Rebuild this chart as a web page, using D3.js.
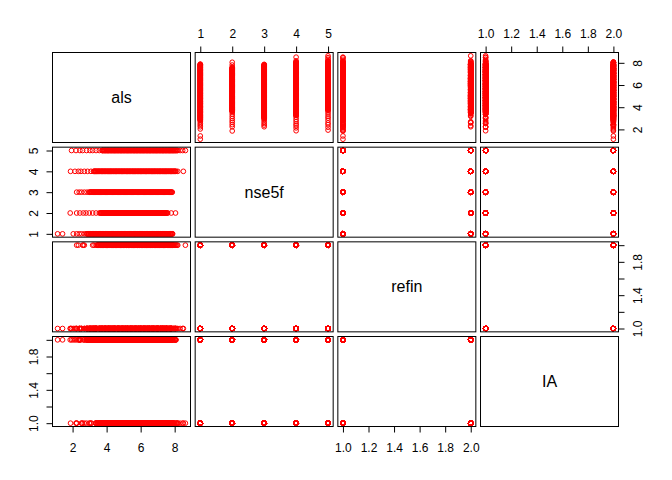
<!DOCTYPE html>
<html><head><meta charset="utf-8">
<script src="https://cdn.jsdelivr.net/npm/d3@7"></script>
<style>html,body{margin:0;padding:0;background:#fff;} svg{display:block;}</style>
</head><body>
<script>
// Variables shown in the scatterplot matrix
const varNames = ["als", "nse5f", "refin", "IA"];

// Tick values
const alsTicks = [2, 4, 6, 8];
const nse5fTicks = [1, 2, 3, 4, 5];
const binaryTicks = [1.0, 1.2, 1.4, 1.6, 1.8, 2.0];
const binaryVertLabels = [1.0, 1.4, 1.8];

// Observations per nse5f level: als value + code for (refin, IA)
// a = refin 1 / IA 1, b = refin 1 / IA 2, c = refin 2 / IA 1, d = refin 2 / IA 2
const nse5fLevels = [1, 2, 3, 4, 5];
const nse1Obs = `1.12b 1.41b 2.04b 2.24a 2.39b 2.53a 2.69b
2.82b 2.87b 2.95b 3.02a 3.07b 3.15b 3.21b 3.26d 3.34b 3.39b
3.47c 3.52b 3.6a 3.65d 3.73b 3.78c 3.84a 3.92b 3.97d 4.05a
4.1b 4.18c 4.23a 4.31b 4.36d 4.42a 4.5b 4.55c 4.63a 4.68b
4.76d 4.81a 4.89c 4.94b 5.02a 5.07d 5.13b 5.21a 5.26c 5.34b
5.39a 5.47d 5.52b 5.6a 5.65c 5.71b 5.79a 5.84d 5.92b 5.97a
6.05c 6.1b 6.16a 6.24d 6.29b 6.37a 6.42c 6.5b 6.55a 6.61d
6.69b 6.74a 6.82c 6.87b 6.95a 7.0d 7.06b 7.14a 7.19c 7.27b
7.32a 7.4d 7.45b 7.53a 7.58c 7.64b 7.72a 7.77d 7.84b 7.88a
2.85b 2.91b 2.98b 3.05b 3.11b 3.18b 3.24b 3.3b 3.37b 3.43b
3.5d 3.56a 3.63b 3.69c 3.75a 3.81b 3.88d 3.95a 4.01c 4.07b
4.14a 4.2d 4.27b 4.33c 4.39a 4.46b 4.52d 4.59a 4.65c 4.72b
4.78a 4.85d 4.91b 4.98c 5.04a 5.1b 5.17d 5.23a 5.3c 5.36b
5.43a 5.49d 5.56b 5.62c 5.68a 5.75b 5.81d 5.88a 5.94c 6.01b
6.07a 6.13d 6.2b 6.26c 6.33a 6.39b 6.46d 6.52a 6.58c 6.65b
6.71a 6.78d 6.84b 6.91c 6.97a 7.03b 7.1d 7.16a 7.23c 7.29b
7.36a 7.42d 7.49b 7.55c 7.61a 7.68b 7.74d 7.81a 7.86c`;
const nse2Obs = `1.86b 2.24c 2.43b 2.63d 2.79b 2.98a 3.18b 3.38c 3.57b
3.63d 3.69a 3.76b 3.82c 3.89a 3.95b 4.01d 4.08a 4.14b 4.2c
4.27a 4.33b 4.4d 4.46a 4.52b 4.59c 4.65a 4.71b 4.78d 4.84a
4.91b 4.97c 5.03a 5.1b 5.16d 5.22a 5.29b 5.35c 5.42a 5.48b
5.54d 5.61a 5.67b 5.73c 5.8a 5.86b 5.93d 5.99a 6.05b 6.12c
6.18a 6.24b 6.31d 6.37a 6.44b 6.5c 6.56a 6.63b 6.69d 6.75a
6.82b 6.88c 6.95a 7.01b 7.07d 7.14a 7.2b 7.26c 7.33a 7.39b
7.46d 7.52a 7.59b 7.8a 8.05d
3.66b 3.72c 3.79a 3.85b 3.92d 3.98a 4.05b 4.11c 4.17a 4.24b
4.3d 4.37a 4.43b 4.49c 4.56a 4.62b 4.68d 4.75a 4.81b 4.88c
4.94a 5.0b 5.07d 5.13a 5.19b 5.26c 5.32a 5.39b 5.45d 5.51a
5.58b 5.64c 5.7a 5.77b 5.83d 5.9a 5.96b 6.02c 6.09a 6.15b
6.21d 6.28a 6.34b 6.41c 6.47a 6.53b 6.6d 6.66a 6.72b 6.79c
6.85a 6.92b 6.98d 7.04a 7.11b 7.17c 7.23a 7.3b 7.36d 7.43a
7.49b 7.56c`;
const nse3Obs = `2.24b 2.39b 2.53a 2.69b 2.85b
2.98b 3.05b 3.11a 3.18b 3.24b 3.31b 3.37a 3.44b 3.5c 3.57b
3.66a 3.72d 3.79b 3.85c 3.92a 3.98b 4.04d 4.11a 4.17b 4.23c
4.3a 4.36b 4.43d 4.49a 4.55b 4.62c 4.68a 4.74b 4.81d 4.87a
4.94b 5.0c 5.06a 5.13b 5.19d 5.25a 5.32b 5.38c 5.45a 5.51b
5.57d 5.64a 5.7b 5.76c 5.83a 5.89b 5.96d 6.02a 6.08b 6.15c
6.21a 6.27b 6.34d 6.4a 6.47b 6.53c 6.59a 6.66b 6.72d 6.78a
6.85b 6.91c 6.98a 7.04b 7.1d 7.17a 7.23b 7.29c 7.36a 7.42b
7.49d 7.55a 7.61b 7.68c 7.74a 7.8b 7.86d
3.01b 3.08b 3.14b 3.21b 3.27b 3.34b 3.4b 3.47d 3.53a 3.6b
3.63c 3.69b 3.75a 3.82d 3.88b 3.95a 4.01c 4.07b 4.14a 4.2d
4.26b 4.33a 4.39c 4.46b 4.52a 4.58d 4.65b 4.71a 4.78c 4.84b
4.9a 4.97d 5.03b 5.09a 5.16c 5.22b 5.29a 5.35d 5.41b 5.48a
5.54c 5.6b 5.67a 5.73d 5.8b 5.86a 5.92c 5.99b 6.05a 6.11d
6.18b 6.24a 6.31c 6.37b 6.43a 6.5d 6.56b 6.62a 6.69c 6.75b
6.82a 6.88d 6.94b 7.01a 7.07c 7.14b 7.2a 7.26d 7.33b 7.39a
7.45c 7.52b 7.58a 7.65d 7.71b 7.77a 7.83c`;
const nse4Obs = `1.88a 2.14b 2.34d 2.49b 2.69c 2.88b 3.08a
3.24b 3.29b 3.36a 3.42b 3.49c 3.55d 3.61a 3.68b 3.74c 3.8d
3.87a 3.93b 3.99c 4.06d 4.12a 4.19b 4.25c 4.31d 4.38a 4.44b
4.51c 4.57d 4.63a 4.7b 4.76c 4.83d 4.89a 4.95b 5.02c 5.08d
5.15a 5.21b 5.27c 5.34d 5.4a 5.47b 5.53c 5.59d 5.66a 5.72b
5.79c 5.85d 5.91a 5.98b 6.04c 6.11d 6.17a 6.23b 6.3c 6.36d
6.43a 6.49b 6.55c 6.62d 6.68a 6.75b 6.81c 6.87d 6.94a 7.0b
7.07c 7.13d 7.19a 7.26b 7.32c 7.39d 7.45a 7.51b 7.58c 7.64d
7.71a 7.77b 7.83c 7.9d 7.96a 8.02b 8.08d 8.18a 8.51a
3.27b 3.33b 3.39a 3.46b 3.52d 3.58c 3.65a 3.71b 3.77d 3.84c
3.9a 3.96b 4.03d 4.09c 4.16a 4.22b 4.28d 4.35c 4.41a 4.48b
4.54d 4.6c 4.67a 4.73b 4.79d 4.86c 4.92a 4.99b 5.05d 5.11c
5.18a 5.24b 5.31d 5.37c 5.43a 5.5b 5.56d 5.63c 5.69a 5.75b
5.82d 5.88c 5.95a 6.01b 6.07d 6.14c 6.2a 6.27b 6.33d 6.39c
6.46a 6.52b 6.58d 6.65c 6.71a 6.78b 6.84d 6.9c 6.97a 7.03b
7.1d 7.16c 7.22a 7.29b 7.35d 7.42c 7.48a 7.54b 7.61d 7.67c
7.74a 7.8b 7.86d 7.93c 7.99a 8.05b`;
const nse5Obs = `1.94b 2.2a 2.43b 2.59c 2.82a 3.02b 3.18d 3.38a 3.57b
3.73b 3.78d 3.85a 3.91c 3.97b 4.04d 4.1a 4.16c 4.23b 4.29d
4.35a 4.42c 4.48b 4.54d 4.61a 4.67c 4.73b 4.8d 4.86a 4.92c
4.99b 5.05d 5.11a 5.18c 5.24b 5.3d 5.37a 5.43c 5.49b 5.56d
5.62a 5.68c 5.75b 5.81d 5.87a 5.94c 6.0b 6.06d 6.13a 6.19c
6.25b 6.32d 6.38a 6.44c 6.51b 6.57d 6.63a 6.7c 6.76b 6.82d
6.89a 6.95c 7.01b 7.08d 7.14a 7.2c 7.27b 7.33d 7.39a 7.46c
7.52b 7.58d 7.65a 7.71c 7.77b 7.84d 7.9a 7.96c 8.03b 8.1a
8.18c 8.32a 8.47a 8.63c
3.75a 3.81c 3.88b 3.94d 4.01a 4.07c 4.13b 4.2d 4.26a 4.32c
4.39b 4.45d 4.51a 4.58c 4.64b 4.7d 4.77a 4.83c 4.89b 4.96d
5.02a 5.08c 5.15b 5.21d 5.27a 5.34c 5.4b 5.46d 5.53a 5.59c
5.65b 5.72d 5.78a 5.84c 5.91b 5.97d 6.03a 6.1c 6.16b 6.22d
6.29a 6.35c 6.41b 6.48d 6.54a 6.6c 6.67b 6.73d 6.79a 6.86c
6.92b 6.98d 7.05a 7.11c 7.17b 7.24d 7.3a 7.36c 7.43b 7.49d
7.55a 7.62c 7.68b 7.74d 7.81a 7.87c 7.93b 7.99d 8.06a 8.14c`;
const obsByLevel = [nse1Obs, nse2Obs, nse3Obs, nse4Obs, nse5Obs];

function parseObs(str, level) {
  return str.trim().split(/\s+/).map(t => {
    const code = t.slice(-1);
    return {
      als: +t.slice(0, -1),
      nse5f: level,
      refin: (code === "c" || code === "d") ? 2 : 1,
      IA: (code === "b" || code === "d") ? 2 : 1
    };
  });
}
const rows = [];
obsByLevel.forEach((s, k) => rows.push(...parseObs(s, nse5fLevels[k])));

// Layout
const width = 672, height = 480;
const L = 52.5, T = 52.5, PW = 138, PH = 90, GAP = 4.67;
const n = varNames.length;
const panelX = j => L + j * (PW + GAP);
const panelY = i => T + i * (PH + GAP);

const ticksFor = { als: alsTicks, nse5f: nse5fTicks, refin: binaryTicks, IA: binaryTicks };
const fmtFor = { als: d3.format("d"), nse5f: d3.format("d"), refin: d3.format(".1f"), IA: d3.format(".1f") };

function padded(v) {
  const e = d3.extent(rows, d => d[v]);
  const p = (e[1] - e[0]) * 0.04;
  return [e[0] - p, e[1] + p];
}
const xScales = varNames.map((v, j) => d3.scaleLinear().domain(padded(v)).range([panelX(j), panelX(j) + PW]));
const yScales = varNames.map((v, i) => d3.scaleLinear().domain(padded(v)).range([panelY(i) + PH, panelY(i)]));

const svg = d3.select("body").append("svg").attr("width", width).attr("height", height);
svg.append("rect").attr("width", width).attr("height", height).attr("fill", "#fff");

const FONT = "'Liberation Sans', Arial, Helvetica, sans-serif";

for (let i = 0; i < n; i++) {
  for (let j = 0; j < n; j++) {
    const g = svg.append("g");
    if (i === j) {
      g.append("text")
        .attr("x", panelX(j) + PW / 2)
        .attr("y", panelY(i) + PH / 2)
        .attr("dy", "0.35em")
        .attr("text-anchor", "middle")
        .attr("font-family", FONT)
        .attr("font-size", 16)
        .attr("fill", "#000")
        .text(varNames[i]);
    } else {
      const vx = varNames[j], vy = varNames[i];
      g.selectAll("circle").data(rows).join("circle")
        .attr("cx", d => xScales[j](d[vx]))
        .attr("cy", d => yScales[i](d[vy]))
        .attr("r", 2.35)
        .attr("fill", "none")
        .attr("stroke", "#ff0000")
        .attr("stroke-width", 1);
    }
    g.append("rect")
      .attr("x", panelX(j)).attr("y", panelY(i))
      .attr("width", PW).attr("height", PH)
      .attr("fill", "none").attr("stroke", "#000").attr("stroke-width", 1);
  }
}

function drawAxis(orient, v, scale, offset) {
  const ticks = ticksFor[v];
  const vertical = orient === "left" || orient === "right";
  const labelled = (vertical && (v === "refin" || v === "IA")) ? binaryVertLabels : ticks;
  const gen = (orient === "top" ? d3.axisTop : orient === "bottom" ? d3.axisBottom : orient === "left" ? d3.axisLeft : d3.axisRight)(scale)
    .tickValues(ticks).tickSize(6)
    .tickFormat(d => labelled.some(l => Math.abs(l - d) < 1e-9) ? fmtFor[v](d) : "");
  const g = svg.append("g")
    .attr("transform", vertical ? `translate(${offset},0)` : `translate(0,${offset})`)
    .attr("color", "#000")
    .call(gen);
  g.select(".domain").remove();
  g.selectAll(".tick line").attr("stroke-width", 1);
  const a = scale(ticks[0]), b = scale(ticks[ticks.length - 1]);
  if (vertical) g.append("line").attr("x1", 0).attr("x2", 0).attr("y1", a).attr("y2", b).attr("stroke", "#000");
  else g.append("line").attr("y1", 0).attr("y2", 0).attr("x1", a).attr("x2", b).attr("stroke", "#000");
  const txt = g.selectAll(".tick text")
    .attr("font-family", FONT).attr("font-size", 12).attr("fill", "#000")
    .attr("dy", "0.35em").attr("text-anchor", "middle");
  if (orient === "top") txt.attr("y", -18.5).attr("x", 0);
  if (orient === "bottom") txt.attr("y", 21).attr("x", 0);
  if (orient === "left") txt.attr("x", 0).attr("y", 0).attr("transform", "translate(-19.2,0) rotate(-90)");
  if (orient === "right") txt.attr("x", 0).attr("y", 0).attr("transform", "translate(19.5,0) rotate(-90)");
}

// R pairs() axis placement: alternate sides
for (let j = 0; j < n; j++) {
  if (j % 2 === 1) drawAxis("top", varNames[j], xScales[j], panelY(0));
  else drawAxis("bottom", varNames[j], xScales[j], panelY(n - 1) + PH);
}
for (let i = 0; i < n; i++) {
  if (i % 2 === 1) drawAxis("left", varNames[i], yScales[i], panelX(0));
  else drawAxis("right", varNames[i], yScales[i], panelX(n - 1) + PW);
}
</script>
</body></html>
